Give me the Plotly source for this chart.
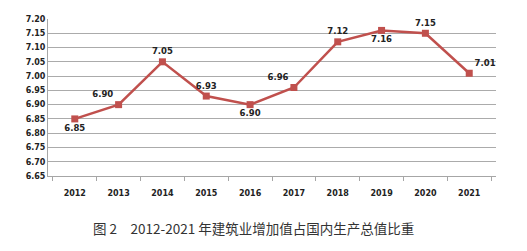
import plotly.graph_objects as go

years = ["2012", "2013", "2014", "2015", "2016", "2017", "2018", "2019", "2020", "2021"]
values = [6.85, 6.90, 7.05, 6.93, 6.90, 6.96, 7.12, 7.16, 7.15, 7.01]
label_pos = ["bottom center", "top left", "top center", "top center", "bottom center",
             "top left", "top center", "bottom center", "top center", "top right"]
y_ticks = [6.65, 6.70, 6.75, 6.80, 6.85, 6.90, 6.95, 7.00, 7.05, 7.10, 7.15, 7.20]
caption = "图 2　2012-2021 年建筑业增加值占国内生产总值比重"

fig = go.Figure()
fig.add_trace(go.Scatter(
    x=years, y=values, mode="lines+markers+text",
    line=dict(color="#c0504d", width=2.5),
    marker=dict(symbol="square", size=7, color="#c0504d"),
    text=[f"{v:.2f}" for v in values],
    textposition=label_pos,
    textfont=dict(family="DejaVu Sans", size=8.5, color="#222222", weight="bold"),
    cliponaxis=False,
    showlegend=False,
))

fig.update_layout(
    width=527, height=251,
    margin=dict(l=48, r=31, t=19, b=75),
    paper_bgcolor="white", plot_bgcolor="white",
    xaxis=dict(
        type="category", showgrid=False, showline=True, linecolor="#a6a6a6", linewidth=1,
        ticks="outside", tickson="boundaries", ticklen=4, tickcolor="#a6a6a6",
        tickfont=dict(family="DejaVu Sans", size=8, color="#222222", weight="bold"),
        ticklabelstandoff=9,
    ),
    yaxis=dict(
        range=[6.65, 7.20], tickvals=y_ticks, tickformat=".2f",
        showgrid=True, gridcolor="#ababab", gridwidth=1.3,
        showline=True, linecolor="#a6a6a6", linewidth=1, zeroline=False,
        tickfont=dict(family="DejaVu Sans", size=8, color="#222222", weight="bold"),
    ),
    annotations=[dict(
        text=caption, xref="paper", yref="paper", x=0.458, y=-0.255,
        xanchor="center", yanchor="top", showarrow=False,
        font=dict(family="Noto Sans CJK SC", size=13.5, color="#333333"),
    )],
)

fig.write_html("out.html")
